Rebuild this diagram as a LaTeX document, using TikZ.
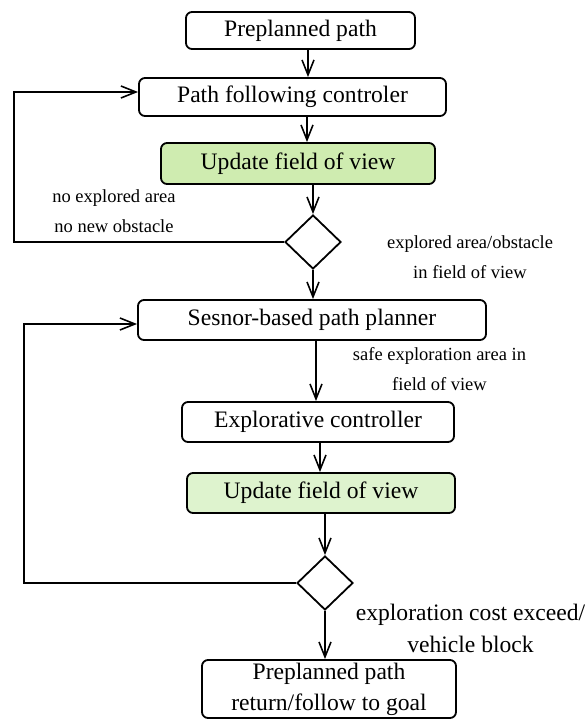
\documentclass[tikz,border=0pt]{standalone}
\usepackage{fontspec}
\setmainfont{Liberation Serif}
\usepackage{xcolor}
\usepackage{tikz}
\usetikzlibrary{arrows.meta, positioning, shapes.geometric}
\definecolor{ViewGreen}{RGB}{207, 236, 176}
\definecolor{ViewGreenLight}{RGB}{222, 243, 206}

\begin{document}
\begin{tikzpicture}[x=0.5pt, y=-0.5pt,
    box/.style={draw, rounded corners=3pt, line width=0.9pt, inner sep=1pt,
                font=\fontsize{11.8}{15.5}\selectfont, align=center},
    decision/.style={draw, diamond, line width=0.9pt, inner sep=0pt,
                minimum width=28pt, minimum height=27pt},
    flow/.style={line width=0.8pt, -{Straight Barb[length=7.5pt, width=6pt]}},
    note/.style={font=\fontsize{9.25}{15}\selectfont, align=center},
    bignote/.style={font=\fontsize{11.8}{16}\selectfont, align=center}]
  \path[use as bounding box] (0,0) rectangle (587,724);

  % path following part
  \node[box, minimum width=114.5pt, minimum height=18.5pt] (pre) at (300.5,30.5) {Preplanned path};
  \node[box, minimum width=153.5pt, minimum height=19pt] (follow) at (292.5,97) {Path following controler};
  \node[box, fill=ViewGreen, minimum width=137pt, minimum height=20.5pt] (upd1) at (298,163.5) {Update field of view};
  \node[decision] (dec1) at (313,242) {};

  % sensor-based part
  \node[box, minimum width=174pt, minimum height=20pt] (planner) at (312,320) {Sesnor-based path planner};
  \node[box, minimum width=136pt, minimum height=20pt] (explo) at (318,422) {Explorative controller};
  \node[box, fill=ViewGreenLight, minimum width=134pt, minimum height=20pt] (upd2) at (321,493) {Update field of view};
  \node[decision] (dec2) at (325,583) {};
  \node[box, minimum width=127pt, minimum height=29pt] (goal) at (329,689) {Preplanned path\\return/follow to goal};

  % labels
  \node[note] (lblstay) at (114,211) {no explored area\\no new obstacle};
  \node[note] (lblseen) at (470,257) {explored area/obstacle\\in field of view};
  \node[note] (lblsafe) at (439.5,369) {safe exploration area in\\field of view};
  \node[bignote] (lblcost) at (470.5,628) {exploration cost exceed/\\vehicle block};

  % connectors
  \draw[flow] ([xshift=3.75pt]pre.south) -- ([xshift=3.75pt]pre.south |- follow.north);
  \draw[flow] ([xshift=7.25pt]follow.south) -- ([xshift=7.25pt]follow.south |- upd1.north);
  \draw[flow] (upd1.south -| dec1.north) -- (dec1.north);
  \draw[flow] (dec1.south) -- (dec1.south |- planner.north);
  \draw[flow] ([xshift=2pt]planner.south) -- ([xshift=2pt]planner.south |- explo.north);
  \draw[flow] ([xshift=1pt]explo.south) -- ([xshift=1pt]explo.south |- upd2.north);
  \draw[flow] (upd2.south -| dec2.north) -- (dec2.north);
  \draw[flow] (dec2.south) -- (dec2.south |- goal.north);

  % loops back
  \coordinate (loopA) at (14,242);
  \coordinate (loopB) at (24,583);
  \draw[flow] (dec1.west) -- (loopA) |- ([yshift=2.5pt]follow.west);
  \draw[flow] (dec2.west) -- (loopB) |- ([yshift=-2pt]planner.west);
\end{tikzpicture}
\end{document}
